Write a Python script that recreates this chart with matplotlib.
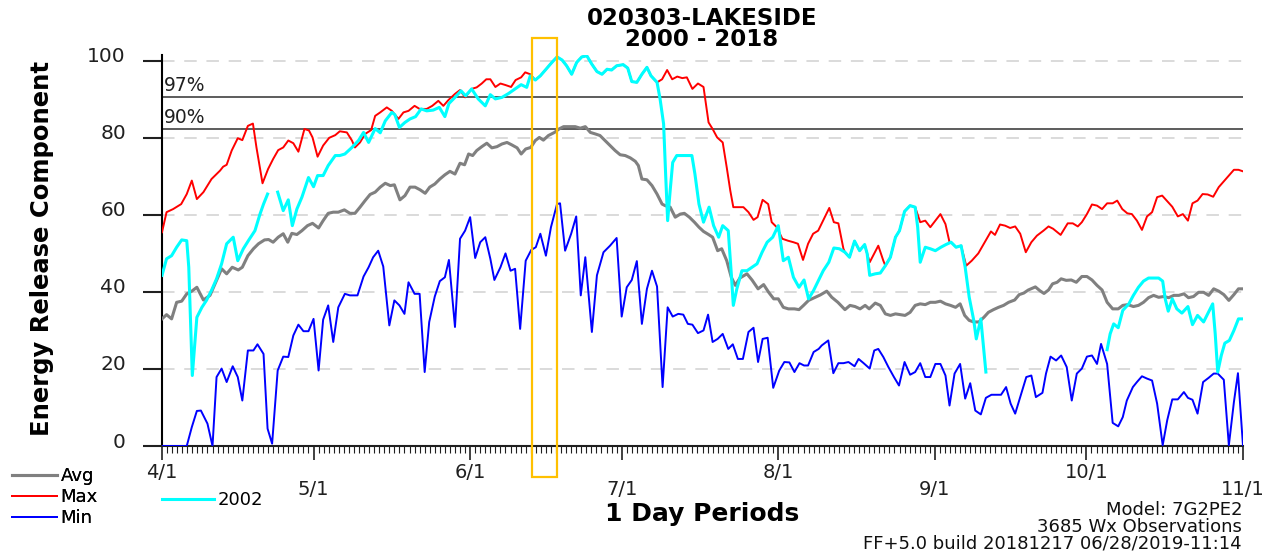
import numpy as np
import matplotlib
matplotlib.use('Agg')
import matplotlib.pyplot as plt
from matplotlib.patches import Rectangle
from matplotlib.transforms import ScaledTranslation
from matplotlib.lines import Line2D

plt.rcParams['font.family'] = ['DejaVu Sans']
plt.rcParams['lines.scale_dashes'] = False

# ---------------- data (day index from 4/1, ERC value) ----------------
avg_days = [0,0.9,1.9,2.9,3.9,4.9,5.9,6.9,8.2,9.5,10.5,11.8,12.8,13.9,15.1,15.9,17,18.1,19.1,20.3,21.1,22,23,24,24.9,25.7,26.7,27.7,28.8,29.8,31,31.9,32.9,33.9,34.9,36.1,37.2,38.2,39.2,40.2,41.2,42.2,43.2,44.2,45.2,46,47.1,48.1,49.1,50.1,51.1,52.1,53,54,55,56,57,58,59,59.9,60.7,61.5,62.3,63.3,64.3,65.3,66.3,67.3,68.3,69.2,70.3,71.1,72,73,73.9,74.7,75.5,76.5,77.7,78.6,79.5,81.8,82.8,83.8,84.8,85.8,86.7,87.7,88.7,89.7,90.7,91.7,92.7,93.7,94.3,95,96,97,98,99,99.6,100.6,101.6,102.6,103.4,104.4,105.4,106.3,107.2,108.2,109,110,110.8,111.8,112.7,113.5,114.4,115.8,116.8,118,119.1,120.1,121.1,122,123,124,125.2,126.1,127,128,129.3,130.3,131.6,132.6,133.8,135.2,136.2,137.2,138.2,139.2,140,141.2,142.2,143.2,144.2,145.2,146.1,147.1,148.1,149.1,150.1,151.1,152.1,153.1,154.1,155.1,156.1,157.1,158,158.9,159.8,160.7,161.7,162.7,163.6,164.6,165.6,166.6,167.6,168.8,169.7,170.6,171.5,172.9,173.8,174.6,175.5,176.3,177.2,178,179,180,181,182.1,183.1,184.1,185.1,186.1,187.1,188.2,189.3,190.2,191.2,192.3,193.3,194.3,195.3,196.3,197.3,198.3,199.3,200.3,201.3,202.3,203.2,204.2,205.2,206.2,207.2,208.2,209.2,210.2,211.2,212.2,213.1,214]
avg_vals = [33,34.1,33,37.3,37.6,39.5,40.2,41.2,37.9,39.1,42.1,46,44.7,46.4,45.7,46.4,49.4,51.2,52.5,53.5,53.6,52.9,54.2,55.1,52.9,55.2,54.9,55.9,57.2,57.8,56.6,58.5,60.4,60.7,60.7,61.3,60.4,60.4,62,63.7,65.3,65.9,67.2,68.2,67.6,67.8,63.9,65,67.2,67.2,66.5,65.6,67.2,68,69.3,70.4,71.3,70.6,73.4,73,75.8,75.4,76.7,77.7,78.6,77.4,77.7,78.4,78.8,78.2,77.4,75.8,77.1,77.5,79.3,80.1,79.4,80.6,81.4,82.3,82.9,82.9,82.5,82.9,81.4,81,80.6,79.3,78,76.7,75.6,75.4,74.8,73.9,72.8,69.3,69.1,67.6,65.4,62.8,62.4,62,59.4,60.2,60.4,59.4,58.1,56.8,55.7,54.9,54.2,50.7,51.2,48.1,43.8,41.7,43.6,44.7,43.1,40.8,41.9,39.9,38.2,38.2,36,35.6,35.6,35.4,36.5,37.8,38.6,39.2,40.2,38.6,37.3,35.4,36.5,36.2,35.6,36.5,35.6,37.1,36.5,34.3,33.9,34.3,34.1,33.9,34.7,36.5,36.9,36.7,37.3,37.3,37.6,36.9,36.5,36,36.9,33.9,32.6,32.2,32.2,33.4,34.7,35.4,36,36.5,37.3,37.9,39.3,39.7,40.5,41.3,40.3,39.6,40.5,42.1,42.5,43.4,43,43.1,42.5,44,44,43.1,41.7,40.5,37.3,35.6,35.6,36.5,36.7,36.2,36.5,37.3,38.5,39.1,38.6,38.8,38.5,39.1,39.1,39.5,38.5,38.8,39.9,39.9,39.1,40.8,40.2,39.3,37.8,39.3,40.8,40.8]

max_days = [0,0.9,2.2,3.8,4.9,5.9,6.9,8.2,9.8,11.5,12.1,12.8,13.8,15,15.9,17,18,18.7,19.9,21,22,23,24,25,26,27,28.2,29.1,29.8,30.8,31.9,33.1,34.3,35.2,36.6,37.6,38.2,39.2,40.2,41.4,42.2,43.2,44.5,45.5,46.8,47.8,48.8,50,51,52.4,53.5,54.7,55.7,56.7,58,59,60,61.3,62.3,63.3,64.2,65,66,67,68,69.1,70,71.1,71.9,72.9,73.9,74.9,76.2,77.2,78.2,79.2,80.1,81.1,82.1,83.1,84.1,85.1,86.1,87.1,88.1,89,90,91.3,92.2,93,94,95,96,96.8,98,99,100,101,102,103,103.9,105,106.1,107.2,108.2,109,109.9,111,111.8,112.5,113.1,114.1,115.1,116.1,117.1,117.9,118.9,120,120.7,121.7,122.8,123.9,125,125.9,126.9,127.9,128.9,129.9,131.2,132.1,133,133.9,134.9,135.2,136.1,137.1,138.1,139.1,139.6,140.1,141.8,142.8,143.2,144.2,145.2,146,147,148.1,149.1,150.1,151.1,152.1,153.1,154.1,155.1,155.9,156.2,157.2,158.2,159.2,160.3,161.6,162.6,163.6,164.1,164.9,165.9,166.9,167.9,168.9,169.9,171,172.1,173.2,174.5,175.5,176.4,177.9,179.3,180.3,181.3,182.1,183.1,184.1,185.1,186.1,187.1,188.2,189.1,190.1,191.1,192,193,194,195,196,197,198,198.9,200,201.1,202.1,203.1,204,205,206,207,208.1,209.2,210.2,211.2,212.2,213.1,214]
max_vals = [55.5,60.7,61.5,62.8,65.4,68.9,64.1,65.9,69.3,71.5,72.5,73,76.7,79.9,79.4,83.1,83.7,77.5,68.2,71.9,74.5,76.8,77.5,79.3,78.6,76.4,82.3,81.9,80.1,75.1,78,80,80.7,81.7,81.4,79.3,77.5,78.8,81,82,85.7,86.6,87.9,87,84.9,86.6,87,88.3,87.5,87.5,88.3,89.6,88.3,89.8,91.4,92.4,90.5,92.7,93.1,94.1,95.2,95.2,93.2,94.1,93.7,93.2,95,95.7,97,96.5,95,96.1,98.1,99.6,101,100.2,98.7,96.5,99.6,101,101.3,99.1,97.2,96.5,97.8,97.6,98.7,99,98.1,94.6,94.4,96.5,98.3,96.1,94.4,95.2,97.6,95.2,95.9,95.5,95.7,92.7,94.1,93.2,84,82.3,80.1,78.8,72.3,66.3,62,62,62,60.7,58.7,59.4,63.9,62.8,58.1,56.8,53.8,53.3,52.9,52.5,48.3,52.5,55.1,55.9,59.4,61.8,58.1,57.8,51.2,50.3,49,53.2,50.7,52.3,49.9,47.7,52,48.1,46.8,49,54.2,55.9,60.9,62.4,62,58.1,58.5,56.8,58.5,60.2,57.6,52.9,52.9,51.6,52,46.8,48.1,50,52.3,54.6,55.7,54.8,57.5,57.2,56.6,57,55.1,50.3,52.9,54.6,55.9,57,56.4,54.8,57.8,57.8,57,58.1,60.2,62.7,62.4,61.5,63,63,63.7,61.5,60.4,60.2,58.5,56.1,59.6,60.7,64.6,65,63.7,62.1,59.6,60.2,58.5,63,63.7,65.4,65.3,64.7,67.2,68.7,70.2,71.7,71.7,71.3]

min_days = [0,4.9,5.9,6.9,7.7,9,10,10.8,11.8,12.8,14,15,15.9,17,18.1,18.9,20.1,20.9,21.8,22.9,24,25,26,27,28,29,30,31,31.9,32.9,33.9,34.9,36.2,37.2,38.7,39.9,40.9,41.8,42.8,43.8,45,46,47,48,48.8,50,51,52,52.9,54,55,56,56.8,58,59,60,61,62,63,64,65,65.8,67,68,69,69.9,70.9,72,73.1,74,74.9,76,77,78.2,78.8,79.8,81,82,82.9,83.8,85.1,86.1,87.4,88.7,90,91,92,93,94,95,96,97,98,99.1,100.1,101.1,102.2,103.2,104.1,105,106.1,107.2,108.1,109,110,111,112.1,113,114,115,116.1,117.1,118,118.9,119.9,121,122.2,123.2,124.2,125.2,126.2,127.1,127.9,129,130,130.6,131.9,132.9,133.9,134.9,135.9,137.1,137.9,138.9,140.1,141,141.8,142.8,143.8,144.9,145.9,147,148.1,149.1,150.1,151.1,152.1,153.1,154.1,155.1,155.9,156.9,158,159,160,161,162.1,163.1,164.2,165.3,166.1,167.1,168,168.9,170.1,171.1,172.1,173,174.3,175,175.9,177,178,179.1,180.1,181.1,182.1,183.1,184.1,185.1,185.9,187.1,188.2,189.3,190.2,191,192.2,193,194,195,196,197,198.1,199,200,201.1,202.3,203.1,204,205,206.1,207.2,208.2,209,210.2,211.2,212.2,213,214]
min_vals = [0,0,4.9,9.1,9.2,5.8,0,17.9,20.1,16.6,20.7,17.9,11.8,24.8,24.8,26.4,23.9,4.5,0.6,19.6,23.2,23.1,28.7,31.5,29.8,29.8,33,19.6,32.8,36.5,27,36,39.5,39.1,39.1,44,46.4,49,50.7,46.6,31.3,37.8,36.5,34.3,42.5,39.5,39.5,19.2,32.2,38.8,42.8,43.8,48.3,30.9,53.8,55.9,59.4,48.8,52.9,54.2,48.6,43.1,46.4,50,45.5,46,30.4,48.1,50.9,51.6,55.1,49.4,56.8,62.8,63,50.7,55.1,59.6,39.1,49,29.6,44.3,50.3,52,54,33.6,41.2,43.1,48,31.7,40.8,45.5,41.4,15.3,36,33.6,34.3,34.1,31.7,31.5,29.3,30,34.1,27,27.8,29.1,25.2,26.4,22.6,22.6,29.6,30.7,21.8,27.8,28.1,15.1,19.6,21.8,21.7,19.2,21.5,20.9,20.9,24.4,25.2,26.1,27.4,18.9,21.5,21.5,21.8,20.7,22.6,21.5,20.1,24.8,25.2,23.1,20.5,17.9,15.7,21.8,18.5,19.2,21.5,17.9,17.9,21.3,21.3,18.3,10.5,18.8,21.3,12.3,16.3,9.2,8.2,12.5,13.3,13.3,13.3,15.3,11,8.4,13.6,17.9,18.3,12.7,13.8,18.8,23.2,22.2,23.5,20.5,11.8,18.8,20.1,23.2,23.5,21.3,26.5,21.3,6,5.1,7.5,11.8,15.3,16.6,18.1,17.5,17,11,0.2,6.7,12.1,12.1,14,12.5,12,8.4,16.6,17.7,18.8,18.8,17.2,0.2,11.4,18.9,0]

y2002_days = [0,0.9,1.9,2.9,3.9,4.9,5.3,6,6.9,7.9,8.8,9.8,10.8,11.8,12.8,14.1,15,16.1,17.1,18.4,19.4,20.1,20.9,21.9,22.9,24,25,25.8,26.7,27.7,29,30,30.8,31.9,32.9,34.3,35.2,36.2,37.6,38.9,39.9,40.9,42.2,43.2,44.2,45.5,46.1,47,48.1,49.1,50.2,51.3,52.4,53.7,54.9,56,56.8,58,59.2,60.1,61.3,62.6,64,65,66,67.3,68.6,69.9,71.1,72.2,72.9,73.9,74.9,76.2,77.2,78.2,79.2,80.1,81.1,82.1,83.1,84.1,85.1,86.1,87.1,88.1,89,90,91.3,92.2,93,94,95,96,96.8,98,98.6,99.3,99.7,100.1,100.6,101.1,101.9,103.2,104.9,105.5,106.3,107.2,108.3,109.2,110.2,111,112.1,112.7,113.1,113.8,114.8,115.8,116.8,117.8,118.8,119.8,120.9,122,123,124,125,126.1,127.1,128,129,130,130.9,132,133,134.1,135.2,136.1,137.1,138.1,139.1,139.6,140.1,141.2,142.2,143.2,144.2,145.2,146,147,148.1,149.1,149.6,150.1,151.1,152.1,153.1,154.2,155.2,156.2,157.2,158.2,159,159.8,160.7,161.2,162.1,162.6,163.1,175,187.1,187.7,188.4,189.3,190.2,191.4,192.3,193.3,194.3,195.3,196.3,197.3,198.1,198.6,199.2,200,200.9,201.9,203.1,204,205,206.2,207,208,208.5,209,209.7,210.4,211.3,212.2,213.1,214]
y2002_vals = [44.3,48.6,49.4,51.6,53.5,53.3,46.4,18.3,33.4,36,37.8,40.4,43.4,47.3,52.5,54.2,48.1,51.2,53.3,55.9,60.2,62.8,65.4,np.nan,65.9,61.1,63.9,57.2,61.5,64.6,69.7,67.3,70.2,70.2,72.8,75.4,75.4,75.8,77.5,79.3,81.4,78.8,82.4,81.3,84.4,86.6,86,82.7,84,84.9,85.5,87.5,87,87.2,87.9,85.5,88.9,90.5,92.2,90.9,92.7,90.1,88.3,91.2,90.1,90.5,91.5,92.7,93.8,93.1,96.1,95,96.1,98.1,99.6,101,100.2,98.7,96.5,99.6,101,101.3,99.1,97.2,96.5,97.8,97.6,98.7,99,98.1,94.6,94.4,96.5,98.3,96.1,94.4,90.1,83.6,70.6,58.5,66.3,73.6,75.4,75.4,75.4,70.6,62.8,58.1,62,57.2,54.2,57.2,55.9,44.7,36.5,40.8,45.5,45.5,46.4,47.3,50.3,52.9,54.2,57.2,48.1,49,43.8,41.2,43.1,38.2,40.4,43.1,45.5,47.7,51.4,51.2,50.3,49,53.2,50.7,52.3,49.9,44.3,44.7,44.9,46.8,49,54.2,55.9,60.9,62.4,62,56.8,47.7,51.6,51.2,50.7,51.6,52.3,52.9,51.6,52,46.4,38.6,32.6,27.8,33,26.1,19.2,np.nan,25,29.1,31.7,30.7,35.2,36.9,39.1,41.2,42.8,43.6,43.6,43.6,42.8,38.2,35,38.2,35.6,34.5,36.2,31.5,33.9,32.2,34.3,36.9,29.1,19.2,23.5,26.7,27.4,30,33,33]

month_days = [0, 30, 61, 91, 122, 153, 183, 214]
month_labels = ['4/1', '5/1', '6/1', '7/1', '8/1', '9/1', '10/1', '11/1']
pct_levels = [90.6, 82.3]
pct_labels = ['97%', '90%']
highlight_days = [73.2, 78.2]

title1 = '020303-LAKESIDE'
title2 = '2000 - 2018'
info_lines = ['Model: 7G2PE2', '3685 Wx Observations',
              'FF+5.0 build 20181217 06/28/2019-11:14']

# ---------------- figure ----------------
W, H = 1268, 559
fig = plt.figure(figsize=(W / 100, H / 100), dpi=100)
ax = fig.add_axes([162 / W, 1 - 446 / H, (1243 - 162) / W, (446 - 55) / H])
ax.set_xlim(0, 214)
ax.set_ylim(0, 101.5)

C_AVG, C_MAX, C_MIN, C_2002 = '#808080', '#ff0000', '#0000ff', '#00ffff'

ax.plot(avg_days, avg_vals, color=C_AVG, lw=2.2, zorder=3)
ax.plot(max_days, max_vals, color=C_MAX, lw=1.4, zorder=3.1)
ax.plot(min_days, min_vals, color=C_MIN, lw=1.4, zorder=3.2)
ax.plot(y2002_days, y2002_vals, color=C_2002, lw=2.2, zorder=3.3)

# percentile lines
for lvl, lab in zip(pct_levels, pct_labels):
    ax.axhline(lvl, color='#303030', lw=1.1, zorder=2)
    ax.text(0.4, lvl + 0.6, lab, fontsize=13.5, color='#202020',
            ha='left', va='bottom', zorder=4)

# gridlines
ax.set_yticks([0, 20, 40, 60, 80, 100])
for gy in [20, 40, 60, 80, 100]:
    ax.axhline(gy, color='#d4d4d4', lw=1.2, ls=(0, (9, 7)), zorder=1)

# highlight box
ax.add_patch(Rectangle((highlight_days[0], -8.1), highlight_days[1] - highlight_days[0], 114.0,
                       fill=False, ec='#ffc000', lw=1.6, clip_on=False, zorder=6))

# axes styling
for s in ['top', 'right']:
    ax.spines[s].set_visible(False)
ax.spines['left'].set_linewidth(1.5)
ax.spines['bottom'].set_linewidth(1.5)
ax.spines['bottom'].set_color('#202020')

ax.set_xticks(month_days, month_labels)
ax.set_xticks(np.arange(0, 215), minor=True)
ax.tick_params(axis='x', which='major', direction='out', length=10, width=1.2,
               labelsize=14, pad=2, colors='#202020')
ax.tick_params(axis='x', which='minor', direction='out', length=5, width=0.8, colors='#202020')
ax.tick_params(axis='y', which='major', direction='out', length=14, width=1.5,
               labelsize=14.5, pad=12, colors='#202020')

up = ScaledTranslation(0, 6 / 100, fig.dpi_scale_trans)
for lab in ax.get_yticklabels():
    lab.set_transform(lab.get_transform() + up)
down = ScaledTranslation(0, -17 / 100, fig.dpi_scale_trans)
for i, lab in enumerate(ax.get_xticklabels()):
    if i % 2 == 1:
        lab.set_transform(lab.get_transform() + down)

# texts
fig.text(42 / W, 1 - 248 / H, 'Energy Release Component', rotation=90,
         ha='center', va='center', fontsize=17.5, fontweight='bold')
fig.text(702 / W, 1 - 514 / H, '1 Day Periods', ha='center', va='center',
         fontsize=18, fontweight='bold')
fig.text(702 / W, 1 - 18.5 / H, title1, ha='center', va='center',
         fontsize=16.5, fontweight='bold')
fig.text(702 / W, 1 - 39.5 / H, title2, ha='center', va='center',
         fontsize=16.5, fontweight='bold')
for yy, t in zip([510, 527, 544], info_lines):
    fig.text(1242 / W, 1 - yy / H, t, ha='right', va='center', fontsize=13, color='#101010')

# legends
h_avg = Line2D([], [], color=C_AVG, lw=2.2)
h_max = Line2D([], [], color=C_MAX, lw=1.4)
h_min = Line2D([], [], color=C_MIN, lw=1.4)
h_02 = Line2D([], [], color=C_2002, lw=2.2)
leg1 = fig.legend([h_avg, h_max, h_min], ['Avg', 'Max', 'Min'], loc='upper left',
                  bbox_to_anchor=(12 / W, 1 - 467 / H), frameon=False, fontsize=13,
                  borderpad=0, borderaxespad=0, handlelength=2.5, handletextpad=0.2,
                  labelspacing=0.17)
fig.add_artist(leg1)
leg2 = fig.legend([h_02], ['2002'], loc='center left',
                  bbox_to_anchor=(162 / W, 1 - 500 / H), frameon=False, fontsize=13,
                  borderpad=0, borderaxespad=0, handlelength=2.9, handletextpad=0.2)

fig.savefig('out.png', dpi=100)
